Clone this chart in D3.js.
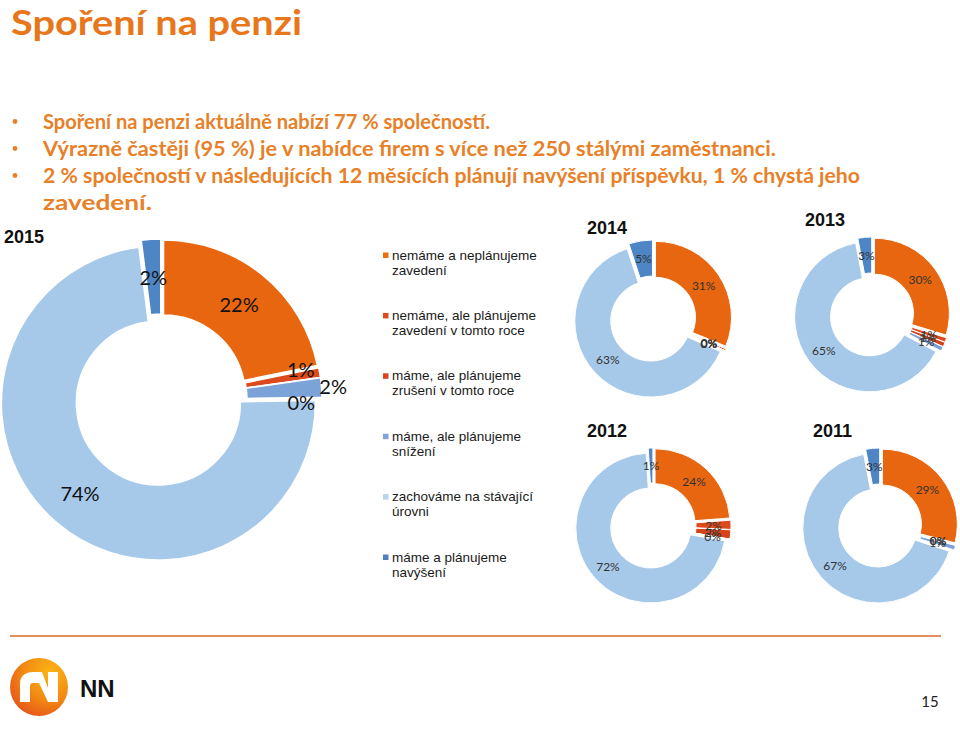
<!DOCTYPE html>
<html><head><meta charset="utf-8">
<script src="https://cdn.jsdelivr.net/npm/d3@7"></script>
<style>body{margin:0;background:#fff}svg{display:block}</style>
</head><body>
<script>
// ---------- data ----------
const categories = ["nemáme a neplánujeme zavedení","nemáme, ale plánujeme zavedení v tomto roce","máme, ale plánujeme zrušení v tomto roce","máme, ale plánujeme snížení","zachováme na stávající úrovni","máme a plánujeme navýšení"];
const legendLines = [["nemáme a neplánujeme","zavedení"],["nemáme, ale plánujeme","zavedení v tomto roce"],["máme, ale plánujeme","zrušení v tomto roce"],["máme, ale plánujeme","snížení"],["zachováme na stávající","úrovni"],["máme a plánujeme","navýšení"]];
const years = ["2015","2014","2013","2012","2011"];
const values2015 = [22, 1, 0, 2, 74, 2];
const values2014 = [31, 0.4, 0, 0, 63, 5];
const values2013 = [30, 1, 1, 1, 65, 3];
const values2012 = [24, 2, 2, 0, 72, 1];
const values2011 = [29, 0, 0, 1, 67, 3];
const title = "Spoření na penzi";
const bullets = ["Spoření na penzi aktuálně nabízí 77 % společností.","Výrazně častěji (95 %) je v nabídce firem s více než 250 stálými zaměstnanci.","2 % společností v následujících 12 měsících plánují navýšení příspěvku, 1 % chystá jeho","zavedení."];
const pageNumber = "15";

// ---------- styles ----------
const sliceColors = ["#E8660F","#DC4A1D","#D5431B","#7BA3D7","#A6C9EA","#4D85C5"];
const legendColors = ["#E8700F","#DC4B1E","#D9461E","#7FA5D8","#B8D3EC","#4F81BD"];
const orange = "#E8771C";

const svg = d3.select("body").append("svg").attr("width",960).attr("height",730);

// gradient for logo
const defs = svg.append("defs");
const g1 = defs.append("radialGradient").attr("id","logoGrad").attr("cx","70%").attr("cy","25%").attr("r","85%");
g1.append("stop").attr("offset","0%").attr("stop-color","#FDB515");
g1.append("stop").attr("offset","55%").attr("stop-color","#F28A12");
g1.append("stop").attr("offset","100%").attr("stop-color","#E5541B");

// ---------- title & bullets ----------
svg.append("text").attr("x",11).attr("y",35).text(title)
  .attr("font-family","Lato, 'Open Sans', sans-serif").attr("font-weight","bold").attr("font-size",35)
  .attr("fill",orange).attr("textLength",291).attr("lengthAdjust","spacingAndGlyphs");

const bulletBase = [129,156,183,210];
const bulletWidths = [447,733,817,109];
bullets.forEach((b,i)=>{
  svg.append("text").attr("x",43).attr("y",bulletBase[i]).text(b)
    .attr("font-family","Lato, 'Open Sans', sans-serif").attr("font-weight","bold").attr("font-size",21)
    .attr("fill","#E88027").attr("textLength",bulletWidths[i]).attr("lengthAdjust","spacingAndGlyphs");
  if(i<3) svg.append("circle").attr("cx",15).attr("cy",bulletBase[i]-7.5).attr("r",2.4).attr("fill","#E88027");
});

// ---------- donuts ----------
function donut(values, cfg){
  const pie = d3.pie().sort(null).value(d=>d);
  const arcs = pie(values);
  const arc = d3.arc().innerRadius(cfg.r).outerRadius(cfg.R);
  const g = svg.append("g").attr("transform",`translate(${cfg.cx},${cfg.cy})`);
  const off = d => { const m=(d.startAngle+d.endAngle)/2; return [cfg.d*Math.sin(m), -cfg.d*Math.cos(m)]; };
  g.selectAll("path.s").data(arcs).join("path").attr("class","s")
    .attr("d",arc).attr("fill",(d,i)=>sliceColors[i])
    .attr("stroke","#fff").attr("stroke-width",cfg.sw)
    .attr("transform",d=>{const o=off(d);return `translate(${o[0]},${o[1]})`;});
  g.selectAll("text.l").data(arcs).join("text").attr("class","l")
    .attr("x",(d,i)=>{const c=arc.centroid(d),o=off(d),n=(cfg.nudge&&cfg.nudge[i])||[0,0];return c[0]+o[0]+n[0];})
    .attr("y",(d,i)=>{const c=arc.centroid(d),o=off(d),n=(cfg.nudge&&cfg.nudge[i])||[0,0];return c[1]+o[1]+n[1];})
    .attr("text-anchor","middle").attr("dominant-baseline","central")
    .attr("font-family","Lato, 'Open Sans', sans-serif").attr("font-size",cfg.fs).attr("fill",cfg.lc)
    .text(d=>Math.round(d.data)+"%");
}

donut(values2015,{cx:161,cy:400,R:157,r:82,d:4,sw:1.5,fs:20,lc:"#111",nudge:{1:[18,-10],2:[18,19],3:[49,-4]}});
donut(values2014,{cx:653,cy:319,R:76,r:40,d:3,sw:1,fs:12,lc:"#333"});
donut(values2013,{cx:872,cy:315,R:75,r:39,d:3,sw:1,fs:12,lc:"#333"});
donut(values2012,{cx:653,cy:526,R:75,r:40,d:3,sw:1,fs:12,lc:"#333"});
donut(values2011,{cx:880,cy:526,R:75,r:39,d:3,sw:1,fs:12,lc:"#333"});

// year titles
const yearPos = [[4,243],[587,234],[805,226],[587,437],[813,437]];
years.forEach((y,i)=>{
  svg.append("text").attr("x",yearPos[i][0]).attr("y",yearPos[i][1]).text(y)
    .attr("font-family","'Liberation Sans', Arial, sans-serif").attr("font-weight","bold").attr("font-size",18).attr("fill","#111");
});

// ---------- legend ----------
const lg = svg.append("g").attr("transform","translate(383,255)");
legendLines.forEach((lines,i)=>{
  const gy = i*60.4;
  lg.append("rect").attr("x",0).attr("y",gy-2.5).attr("width",5.5).attr("height",5.5).attr("fill",legendColors[i]);
  lines.forEach((t,j)=>{
    lg.append("text").attr("x",9).attr("y",gy+j*15).attr("dominant-baseline","central").text(t)
      .attr("font-family","'Liberation Sans', Arial, sans-serif").attr("font-size",13.5).attr("fill","#1a1a1a");
  });
});

// ---------- footer ----------
svg.append("line").attr("x1",10).attr("x2",941).attr("y1",636).attr("y2",636).attr("stroke","#DB6A2C").attr("stroke-width",1.5);
const logo = svg.append("g").attr("transform","translate(39,687)");
logo.append("circle").attr("r",29).attr("fill","url(#logoGrad)");
logo.append("path").attr("fill","#fff")
  .attr("d","M-19,15 L-19,-3 C-19,-12 -13,-15 -5,-15 L3,-15 L9,1 L9,-15 L19,-15 L19,15 L9,15 L0,-4 L-6,-4 C-8,-4 -9,-3 -9,-1 L-9,15 Z");
svg.append("text").attr("x",80).attr("y",697).text("NN")
  .attr("font-family","'Liberation Sans', Arial, sans-serif").attr("font-weight","bold").attr("font-size",24).attr("fill","#111");
svg.append("text").attr("x",930).attr("y",707).attr("text-anchor","middle").text(pageNumber)
  .attr("font-family","Lato, sans-serif").attr("font-size",15).attr("fill","#222");
</script>
</body></html>
